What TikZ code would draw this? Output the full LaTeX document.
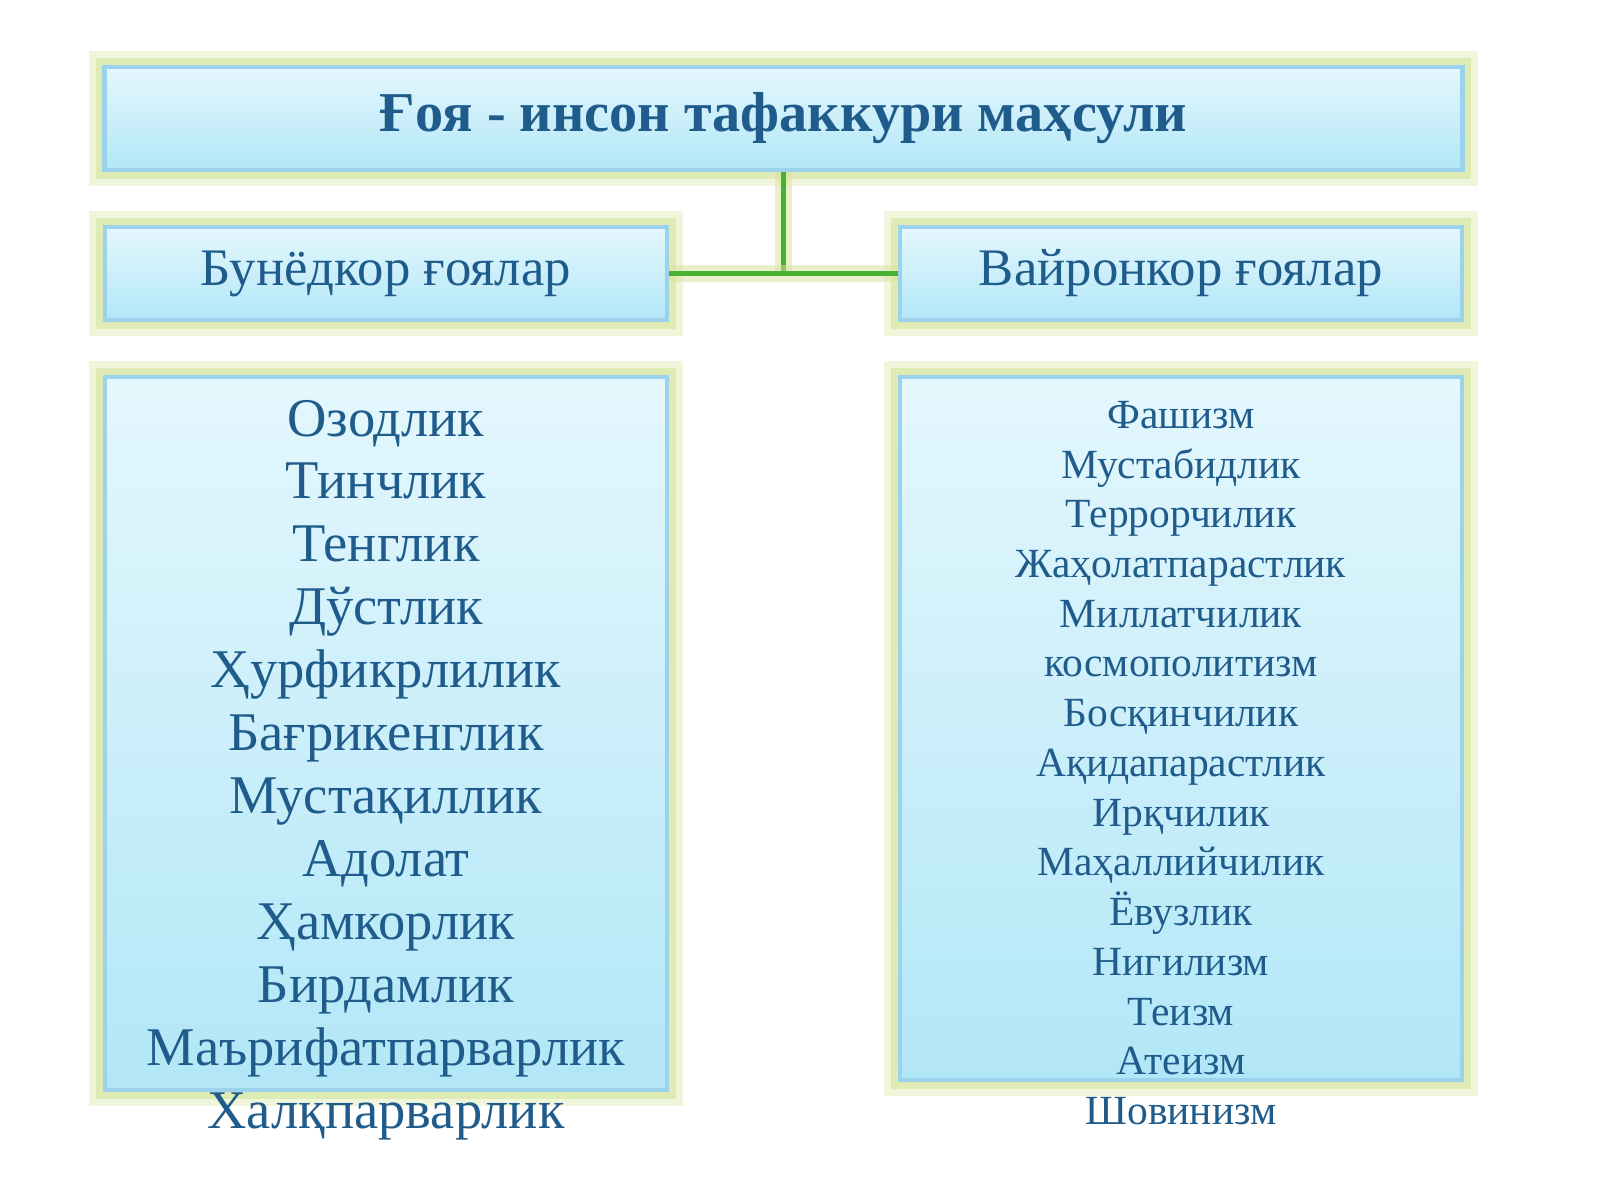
\documentclass[tikz,border=0pt]{standalone}
\usepackage{fontspec}
\setmainfont{Liberation Serif}
\usetikzlibrary{positioning}
\definecolor{ink}{HTML}{1F5C8C}
\definecolor{glow}{HTML}{D4E49A}
\definecolor{edge}{HTML}{9CD2EC}
\definecolor{filltop}{HTML}{E4F7FD}
\definecolor{fillbot}{HTML}{B2E7F7}
\tikzset{
  box/.style={draw=edge, line width=1.2pt, top color=filltop, bottom color=fillbot,
    preaction={draw=glow, line width=9pt, opacity=.35},
    preaction={draw=glow, line width=5pt, opacity=.6}},
  link/.style={draw=glow!55!black!60!green, line width=1.3pt, preaction={draw=glow, line width=5pt, opacity=.5}},
  items/.style={text=ink, align=center}
}
\begin{document}
\begin{tikzpicture}[x=0.01cm, y=-0.01cm]
	\useasboundingbox (0,0) rectangle (1600,1200);

	\node[box, minimum width=13.57cm, minimum height=1.03cm] (idea) at (783.5,118.5) {};
	\node[text=ink, font=\fontsize{16}{19}\selectfont\bfseries] (ideatxt) at (idea) {Ғоя - инсон тафаккури маҳсули};

	\node[box, minimum width=5.62cm, minimum height=0.93cm] (good) at (386,273.5) {};
	\node[text=ink, font=\fontsize{15}{18}\selectfont] at (good) {Бунёдкор ғоялар};
	\node[box, minimum width=5.62cm, minimum height=0.93cm] (bad) at (1181,273.5) {};
	\node[text=ink, font=\fontsize{15}{18}\selectfont] at (bad) {Вайронкор ғоялар};

	\coordinate (joint) at (783.5,272);
	\draw[link] (idea.south) -- (joint);
	\draw[link] (good.east) -- (bad.west);

	\node[box, minimum width=5.62cm, minimum height=7.13cm] (goodlist) at (386,733.5) {};
	\node[box, minimum width=5.62cm, minimum height=7.03cm] (badlist) at (1181,728.5) {};

	\node[items, font=\fontsize{15.5}{17.9}\selectfont] (goodtxt) at (386,770) {
		Озодлик\\ Тинчлик\\ Тенглик\\ Дўстлик\\ Ҳурфикрлилик\\ Бағрикенглик\\
		Мустақиллик\\ Адолат\\ Ҳамкорлик\\ Бирдамлик\\ Маърифатпарварлик\\ Халқпарварлик};
	\node[items, font=\fontsize{11.8}{14.14}\selectfont] (badtxt) at (1181,763) {
		Фашизм\\ Мустабидлик\\ Террорчилик\\ Жаҳолатпарастлик\\ Миллатчилик\\ космополитизм\\
		Босқинчилик\\ Ақидапарастлик\\ Ирқчилик\\ Маҳаллийчилик\\ Ёвузлик\\ Нигилизм\\
		Теизм\\ Атеизм\\ Шовинизм};
\end{tikzpicture}
\end{document}
